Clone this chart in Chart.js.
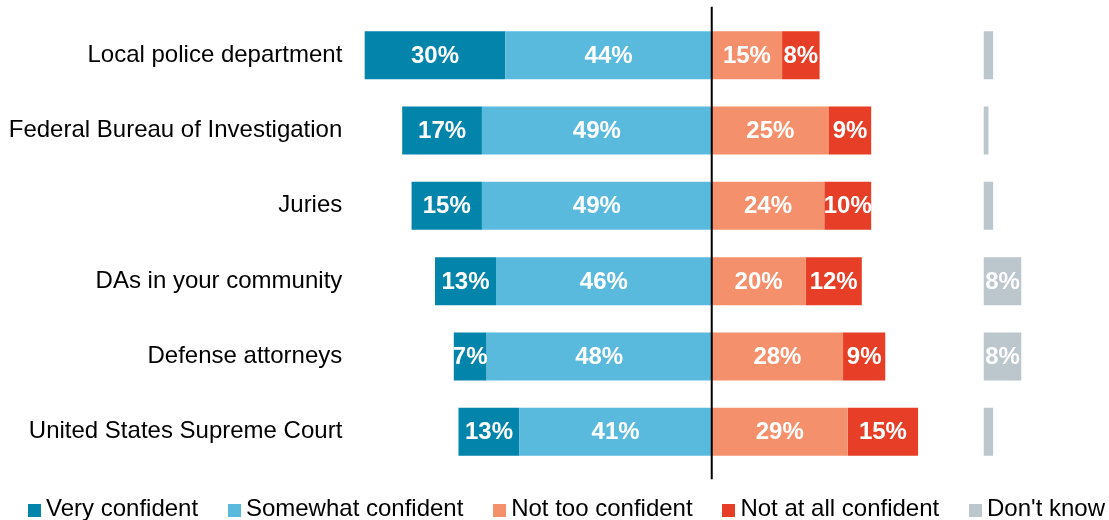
<!DOCTYPE html>
<html>
<head>
<meta charset="utf-8">
<script src="https://cdn.jsdelivr.net/npm/chart.js@4.4.1/dist/chart.umd.min.js"></script>
<style>
html,body{margin:0;padding:0;background:#fff;}
#wrap{position:relative;width:1109px;height:520px;overflow:hidden;}
#c{position:absolute;left:0;top:0;}
#legend{position:absolute;left:28px;top:494px;display:flex;align-items:center;height:28px;line-height:28px;font-family:"Liberation Sans",Arial,sans-serif;font-size:24px;color:#000;white-space:nowrap;}
#legend .item{display:flex;align-items:center;margin-right:29.8px;}
#legend .sw{width:13px;height:13px;margin-right:5px;position:relative;top:2px;}
</style>
</head>
<body>
<div id="wrap">
  <canvas id="c" width="1109" height="520"></canvas>
  <div id="legend"></div>
</div>
<script>
const categories = [
  "Local police department",
  "Federal Bureau of Investigation",
  "Juries",
  "DAs in your community",
  "Defense attorneys",
  "United States Supreme Court"
];
const veryConfident     = [30, 17, 15, 13, 7, 13];
const somewhatConfident = [44, 49, 49, 46, 48, 41];
const notTooConfident   = [15, 25, 24, 20, 28, 29];
const notAtAllConfident = [8, 9, 10, 12, 9, 15];
const dontKnow          = [2, 1, 2, 8, 8, 2];

const seriesNames  = ["Very confident", "Somewhat confident", "Not too confident", "Not at all confident", "Don't know"];
const seriesColors = ["#0384ab", "#5abade", "#f5906c", "#e63e27", "#bcc6cd"];

const FONT = '"Liberation Sans", Arial, sans-serif';
const X_MIN = -76, X_MAX = 83, DK_OFFSET = 58;

const neg = a => a.map(v => -v);

const datasets = [
  { label: seriesNames[1], data: neg(somewhatConfident), backgroundColor: seriesColors[1], xAxisID: 'x', stack: 's' },
  { label: seriesNames[0], data: neg(veryConfident),     backgroundColor: seriesColors[0], xAxisID: 'x', stack: 's' },
  { label: seriesNames[2], data: notTooConfident,        backgroundColor: seriesColors[2], xAxisID: 'x', stack: 's' },
  { label: seriesNames[3], data: notAtAllConfident,      backgroundColor: seriesColors[3], xAxisID: 'x', stack: 's' },
  { label: seriesNames[4], data: dontKnow,               backgroundColor: seriesColors[4], xAxisID: 'x2', stack: 's' }
];

const valueLabels = {
  id: 'valueLabels',
  afterDatasetsDraw(chart) {
    const ctx = chart.ctx;
    ctx.save();
    ctx.font = 'bold 24px ' + FONT;
    ctx.fillStyle = '#ffffff';
    ctx.textAlign = 'center';
    ctx.textBaseline = 'middle';
    chart.data.datasets.forEach((ds, i) => {
      const meta = chart.getDatasetMeta(i);
      meta.data.forEach((el, j) => {
        const v = Math.abs(ds.data[j]);
        if (v < 5) return;
        const p = el.getCenterPoint();
        ctx.fillText(v + '%', p.x, p.y + 1);
      });
    });
    ctx.restore();
  }
};

const zeroLine = {
  id: 'zeroLine',
  afterDatasetsDraw(chart) {
    const ctx = chart.ctx, a = chart.chartArea;
    const x = chart.scales.x.getPixelForValue(0);
    ctx.save();
    ctx.strokeStyle = '#000';
    ctx.lineWidth = 2;
    ctx.beginPath();
    ctx.moveTo(x, a.top - 11);
    ctx.lineTo(x, a.bottom + 10);
    ctx.stroke();
    ctx.restore();
  }
};

new Chart(document.getElementById('c'), {
  type: 'bar',
  data: { labels: categories, datasets },
  options: {
    indexAxis: 'y',
    responsive: false,
    animation: false,
    devicePixelRatio: 1,
    layout: { padding: { left: 0, right: 8, top: 17.65, bottom: 50.65 } },
    datasets: { bar: { categoryPercentage: 1, barPercentage: 0.6375, borderWidth: 0 } },
    scales: {
      y: {
        type: 'category',
        stacked: true,
        grid: { display: false, drawTicks: false },
        border: { display: false },
        ticks: { color: '#000', font: { family: FONT, size: 24 }, padding: 13 },
        afterFit(scale) {
          scale.width = 355.3;
          scale.paddingTop = 0;
          scale.paddingBottom = 0;
        }
      },
      x: {
        stacked: true, min: X_MIN, max: X_MAX, display: false
      },
      x2: {
        stacked: true, min: X_MIN - DK_OFFSET, max: X_MAX - DK_OFFSET, display: false
      }
    },
    plugins: {
      legend: { display: false },
      tooltip: { enabled: false }
    }
  },
  plugins: [valueLabels, zeroLine]
});

const legend = document.getElementById('legend');
seriesNames.forEach((name, i) => {
  const item = document.createElement('div');
  item.className = 'item';
  if (i === seriesNames.length - 1) item.style.marginRight = '0';
  const sw = document.createElement('span');
  sw.className = 'sw';
  sw.style.background = seriesColors[i];
  const t = document.createElement('span');
  t.textContent = name;
  item.appendChild(sw);
  item.appendChild(t);
  legend.appendChild(item);
});
</script>
</body>
</html>
